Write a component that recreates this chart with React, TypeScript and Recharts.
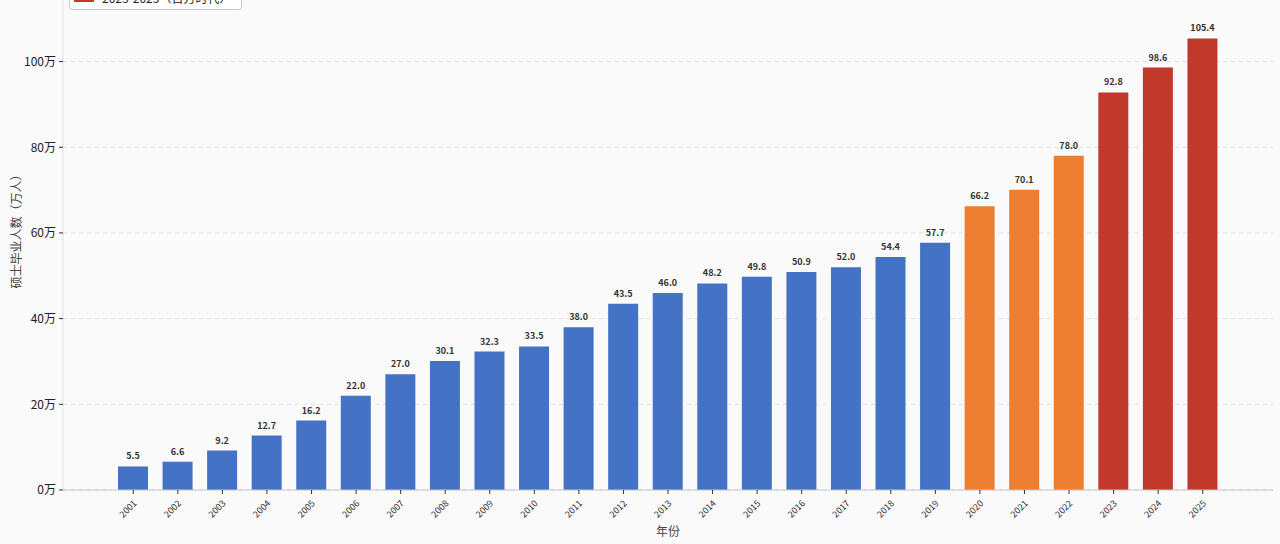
import { Bar, BarChart, CartesianGrid, Cell, LabelList, XAxis, YAxis } from "recharts";

const YEARS = [
  "2001", "2002", "2003", "2004", "2005", "2006", "2007", "2008", "2009", "2010",
  "2011", "2012", "2013", "2014", "2015", "2016", "2017", "2018", "2019", "2020",
  "2021", "2022", "2023", "2024", "2025",
];
const GRADUATES = [
  5.5, 6.6, 9.2, 12.7, 16.2, 22.0, 27.0, 30.1, 32.3, 33.5,
  38.0, 43.5, 46.0, 48.2, 49.8, 50.9, 52.0, 54.4, 57.7, 66.2,
  70.1, 78.0, 92.8, 98.6, 105.4,
];
const Y_TICKS = [0, 20, 40, 60, 80, 100];

const ERAS = [
  { label: "2001-2019（稳步增长）", color: "#4472c4", until: 2019 },
  { label: "2020-2022（扩招加速）", color: "#ed7d31", until: 2022 },
  { label: "2023-2025（百万时代）", color: "#c0392b", until: 2025 },
];

const FONT = '"Noto Sans CJK SC", "Noto Sans", sans-serif';

function eraColor(year: string): string {
  const y = Number(year);
  return (ERAS.find((e) => y <= e.until) ?? ERAS[ERAS.length - 1]).color;
}

const data = YEARS.map((year, i) => ({ year, value: GRADUATES[i] }));

function YearTick({ x, y, payload }: any) {
  return (
    <text
      x={x + 4}
      y={y + 8}
      transform={`rotate(-45, ${x + 4}, ${y + 8})`}
      textAnchor="end"
      fontSize={9}
      fill="#333"
      fontFamily={FONT}
    >
      {payload.value}
    </text>
  );
}

// legend sits mostly above the page edge, like the source image
function EraLegend() {
  return (
    <div
      style={{
        position: "absolute",
        left: 69,
        top: -57,
        background: "#fff",
        border: "1px solid #ccc",
        borderRadius: 3,
        padding: "3px 10px 2px 4px",
        fontFamily: FONT,
        fontSize: 12,
        color: "#222",
        zIndex: 2,
      }}
    >
      {ERAS.map((e) => (
        <div key={e.label} style={{ display: "flex", alignItems: "center", height: 20 }}>
          <span style={{ width: 20, height: 10, background: e.color, marginRight: 8 }} />
          {e.label}
        </div>
      ))}
    </div>
  );
}

export default function App() {
  return (
    <div
      style={{
        position: "absolute",
        left: 0,
        top: 0,
        width: 1280,
        height: 544,
        overflow: "hidden",
        background: "#fafafa",
      }}
    >
      <div style={{ position: "absolute", left: 0, top: -20 }}>
        <BarChart
          width={1280}
          height={564}
          data={data}
          margin={{ top: 13, right: 7, left: 0, bottom: 0 }}
          barSize={30}
        >
          <CartesianGrid vertical={false} stroke="#e2e2e2" strokeDasharray="4 4" />
          <XAxis
            dataKey="year"
            interval={0}
            height={54}
            padding={{ left: 48, right: 48 }}
            tick={<YearTick />}
            tickSize={4}
            tickLine={{ stroke: "#333" }}
            axisLine={{ stroke: "#c8c8c8" }}
            label={{
              value: "年份",
              position: "insideBottom",
              offset: 8,
              fontSize: 12,
              fill: "#444",
              fontFamily: FONT,
            }}
          />
          <YAxis
            width={63}
            domain={[0, 116]}
            ticks={Y_TICKS}
            tickFormatter={(v: number) => `${v}万`}
            tick={{ fontSize: 12, fill: "#222", fontFamily: FONT }}
            tickSize={4}
            tickMargin={3}
            tickLine={{ stroke: "#333" }}
            axisLine={{ stroke: "#e0e0e0" }}
            label={{
              value: "硕士毕业人数（万人）",
              angle: -90,
              position: "insideLeft",
              offset: 17,
              dy: -13,
              fontSize: 12,
              fill: "#444",
              fontFamily: FONT,
              style: { textAnchor: "middle" },
            }}
          />
          <Bar dataKey="value" isAnimationActive={false}>
            {data.map((d) => (
              <Cell key={d.year} fill={eraColor(d.year)} />
            ))}
            <LabelList
              dataKey="value"
              position="top"
              offset={7}
              formatter={(v: any) => Number(v).toFixed(1)}
              style={{ fontSize: 9, fontWeight: 700, fill: "#333", fontFamily: FONT }}
            />
          </Bar>
        </BarChart>
      </div>
      <EraLegend />
    </div>
  );
}
